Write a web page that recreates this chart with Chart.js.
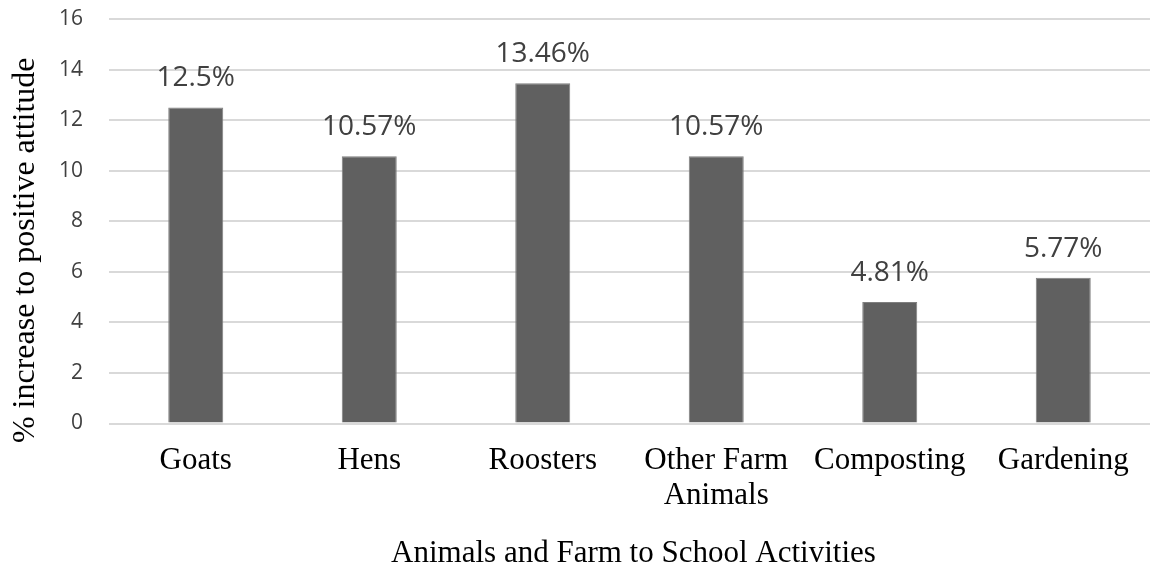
<!DOCTYPE html>
<html>
<head>
<meta charset="utf-8">
<script src="https://cdn.jsdelivr.net/npm/chart.js@4/dist/chart.umd.min.js"></script>
<style>
	html, body { margin: 0; padding: 0; background: #fff; }
	.chartBox { width: 1156px; height: 569px; }
</style>
</head>
<body>
<div class="chartBox"><canvas id="myChart" width="1156" height="569"></canvas></div>
<script>
// data
const categories = ['Goats', 'Hens', 'Roosters', ['Other Farm', 'Animals'], 'Composting', 'Gardening'];
const increase = [12.5, 10.57, 13.46, 10.57, 4.81, 5.77];
const valueLabels = ['12.5%', '10.57%', '13.46%', '10.57%', '4.81%', '5.77%'];
const xTitle = 'Animals and Farm to School Activities';
const yTitle = '% increase to positive attitude';

// labels above bars
const barLabels = {
	id: 'barLabels',
	afterDatasetsDraw(chart) {
		const ctx = chart.ctx;
		const meta = chart.getDatasetMeta(0);
		ctx.save();
		ctx.font = '28px "Open Sans", sans-serif';
		ctx.fillStyle = '#404040';
		ctx.textAlign = 'center';
		ctx.textBaseline = 'alphabetic';
		meta.data.forEach((bar, i) => {
			ctx.fillText(valueLabels[i], bar.x, bar.y - 21);
		});
		ctx.restore();
	},
};

// axis titles, placed like the original (y title sits a bit low)
const axisTitles = {
	id: 'axisTitles',
	afterDraw(chart) {
		const ctx = chart.ctx;
		const area = chart.chartArea;
		ctx.save();
		ctx.fillStyle = '#000';
		ctx.textAlign = 'center';
		ctx.textBaseline = 'alphabetic';
		ctx.font = '31px "Liberation Serif", serif';
		ctx.fillText(xTitle, (area.left + area.right) / 2 + 4, 562);
		ctx.translate(34, (area.top + area.bottom) / 2 + 29);
		ctx.rotate(-Math.PI / 2);
		ctx.font = '32px "Liberation Serif", serif';
		ctx.fillText(yTitle, 0, 0);
		ctx.restore();
	},
};

const config = {
	type: 'bar',
	data: {
		labels: categories,
		datasets: [
			{
				data: increase,
				backgroundColor: '#606060',
				borderColor: '#7f7f7f',
				borderWidth: 1,
				barPercentage: 0.634,
				categoryPercentage: 0.5,
			},
		],
	},
	options: {
		responsive: false,
		animation: false,
		layout: { padding: { top: 19, right: 6, left: 0, bottom: 0 } },
		plugins: {
			legend: { display: false },
			tooltip: { enabled: false },
		},
		scales: {
			x: {
				grid: { display: false },
				border: { display: false },
				afterFit: (scale) => {
					scale.height = 145.5;
				},
				ticks: {
					color: '#000',
					font: { family: '"Liberation Serif", serif', size: 31, lineHeight: 1.12 },
					padding: 12,
					maxRotation: 0,
					autoSkip: false,
				},
			},
			y: {
				min: 0,
				max: 16,
				afterFit: (scale) => {
					scale.width = 109;
					scale.paddingTop = 0;
					scale.paddingBottom = 0;
				},
				ticks: {
					stepSize: 2,
					color: '#404040',
					font: { family: '"Open Sans", sans-serif', size: 21 },
					padding: 26,
				},
				grid: { color: '#d9d9d9', lineWidth: 2, drawTicks: false },
				border: { display: false },
			},
		},
	},
	plugins: [barLabels, axisTitles],
};

const myChart = new Chart(document.getElementById('myChart'), config);
</script>
</body>
</html>
